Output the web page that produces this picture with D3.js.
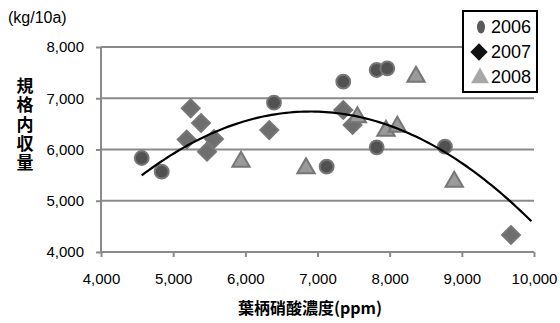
<!DOCTYPE html>
<html>
<head>
<meta charset="utf-8">
<script src="https://cdn.jsdelivr.net/npm/d3@7"></script>
<style>
	body { margin: 0; background: #fff; }
	svg { display: block; }
	text { font-family: "Liberation Sans", Arial, sans-serif; fill: #000; }
	.jp { font-family: "Noto Sans CJK JP", sans-serif; font-weight: 700; }
	.vertical { writing-mode: vertical-rl; text-orientation: upright; }
</style>
</head>
<body>
<svg width="560" height="323"></svg>
<script>

// nitrate (ppm) / yield (kg/10a)
var nitrate2006 = [ 4564, 4841, 6397, 7357, 7820, 7967, 7820, 7127, 8766 ];
var yield2006   = [ 5834, 5567, 6913, 7324, 7551, 7584, 6043, 5665, 6055 ];

var nitrate2007 = [ 5243, 5386, 5187, 5566, 5469, 6332, 7357, 7486, 9681 ];
var yield2007   = [ 6804, 6517, 6195, 6205, 5957, 6380, 6771, 6478, 4332 ];

var nitrate2008 = [ 5940, 6841, 7552, 7949, 8106, 8365, 8895 ];
var yield2008   = [ 5762, 5633, 6628, 6367, 6445, 7420, 5372 ];

var seriesNames = [ '2006', '2007', '2008' ];
var xTicks = [ 4000, 5000, 6000, 7000, 8000, 9000, 10000 ];
var yTicks = [ 4000, 5000, 6000, 7000, 8000 ];

var svg = d3.select( 'svg' );
var fmt = d3.format( ',' );
var axisGrey = '#8a8a8a';

var x = d3.scaleLinear().domain( [ 4000, 10000 ] ).range( [ 101, 534 ] );
var y = d3.scaleLinear().domain( [ 4000, 8000 ] ).range( [ 252, 47 ] );

function pairs( xs, ys ) {
	return xs.map( function( v, i ) { return { x: v, y: ys[ i ] }; } );
}

var series = [
	pairs( nitrate2006, yield2006 ),
	pairs( nitrate2007, yield2007 ),
	pairs( nitrate2008, yield2008 )
];

// gridlines
svg.append( 'g' )
	.selectAll( 'line' )
	.data( yTicks.slice( 1 ) )
	.enter()
	.append( 'line' )
		.attr( 'x1', x( 4000 ) )
		.attr( 'x2', x( 10000 ) )
		.attr( 'y1', function( d ) { return y( d ); } )
		.attr( 'y2', function( d ) { return y( d ); } )
		.attr( 'stroke', axisGrey )
		.attr( 'stroke-width', 2 );

var yAxis = svg.append( 'g' )
	.attr( 'transform', 'translate(' + x( 4000 ) + ',0)' )
	.call( d3.axisLeft( y ).tickValues( yTicks ).tickFormat( fmt ).tickSize( 5 ).tickPadding( 12 ) );

var xAxis = svg.append( 'g' )
	.attr( 'transform', 'translate(0,' + y( 4000 ) + ')' )
	.call( d3.axisBottom( x ).tickValues( xTicks ).tickFormat( fmt ).tickSize( 5 ).tickPadding( 16 ) );

[ yAxis, xAxis ].forEach( function( g ) {
	g.select( '.domain' ).attr( 'stroke', axisGrey ).attr( 'stroke-width', 2 );
	g.selectAll( '.tick line' ).attr( 'stroke', axisGrey ).attr( 'stroke-width', 2 );
	g.selectAll( '.tick text' )
		.attr( 'font-family', '"Liberation Sans", Arial, sans-serif' )
		.attr( 'font-size', 15 )
		.attr( 'fill', '#000' );
} );
yAxis.select( '.domain' ).attr( 'd', 'M0,' + y( 8000 ) + 'V' + y( 4000 ) );
xAxis.select( '.domain' ).attr( 'd', 'M' + x( 4000 ) + ',0H' + x( 10000 ) );

// markers
var symCircle = d3.symbol().type( d3.symbolCircle ).size( 150 );
var symDiamond = d3.symbol().type( d3.symbolSquare ).size( 160 );
var symTriangle = d3.symbol().type( d3.symbolTriangle ).size( 130 );

var styles = [
	{ sym: symCircle, fill: '#515151', rot: 0 },
	{ sym: symDiamond, fill: '#6e6e6e', rot: 45 },
	{ sym: symTriangle, fill: '#9a9a9a', rot: 0 }
];

series.forEach( function( pts, i ) {
	svg.append( 'g' )
		.selectAll( 'path' )
		.data( pts )
		.enter()
		.append( 'path' )
			.attr( 'd', styles[ i ].sym() )
			.attr( 'transform', function( d ) {
				return 'translate(' + x( d.x ) + ',' + y( d.y ) + ') rotate(' + styles[ i ].rot + ')';
			} )
			.attr( 'fill', styles[ i ].fill )
			.attr( 'stroke', '#767676' )
			.attr( 'stroke-width', 2 );
} );

// polynomial (order 2) trendline, least squares over all points
var all = d3.merge( series );
function fitQuadratic( pts ) {
	var s = [ 0, 0, 0, 0, 0 ], t = [ 0, 0, 0 ];
	var mx = d3.mean( pts, function( p ) { return p.x; } );
	pts.forEach( function( p ) {
		var u = ( p.x - mx ) / 1000;
		for ( var k = 0; k < 5; k++ ) s[ k ] += Math.pow( u, k );
		for ( var k = 0; k < 3; k++ ) t[ k ] += p.y * Math.pow( u, k );
	} );
	var m = [ [ s[0], s[1], s[2], t[0] ], [ s[1], s[2], s[3], t[1] ], [ s[2], s[3], s[4], t[2] ] ];
	for ( var i = 0; i < 3; i++ ) {
		for ( var j = i + 1; j < 3; j++ ) {
			var f = m[ j ][ i ] / m[ i ][ i ];
			for ( var k = i; k < 4; k++ ) m[ j ][ k ] -= f * m[ i ][ k ];
		}
	}
	var c = [ 0, 0, 0 ];
	for ( var i = 2; i >= 0; i-- ) {
		var v = m[ i ][ 3 ];
		for ( var k = i + 1; k < 3; k++ ) v -= m[ i ][ k ] * c[ k ];
		c[ i ] = v / m[ i ][ i ];
	}
	return function( xv ) {
		var u = ( xv - mx ) / 1000;
		return c[ 0 ] + c[ 1 ] * u + c[ 2 ] * u * u;
	};
}
var trend = fitQuadratic( all );
var xMin = d3.min( all, function( p ) { return p.x; } );
var trendPts = d3.range( xMin, 10001, 50 ).map( function( v ) { return { x: v, y: trend( v ) }; } );

svg.append( 'path' )
	.datum( trendPts )
	.attr( 'fill', 'none' )
	.attr( 'stroke', '#000' )
	.attr( 'stroke-width', 2.2 )
	.attr( 'd', d3.line()
		.x( function( d ) { return x( d.x ); } )
		.y( function( d ) { return y( d.y ); } ) );

// legend
var legend = svg.append( 'g' );
legend.append( 'rect' )
	.attr( 'x', 463 ).attr( 'y', 11 )
	.attr( 'width', 74 ).attr( 'height', 81 )
	.attr( 'fill', '#fff' )
	.attr( 'stroke', '#000' )
	.attr( 'stroke-width', 2 );

var legendMarks = [
	d3.symbol().type( d3.symbolCircle ).size( 90 ),
	d3.symbol().type( d3.symbolSquare ).size( 150 ),
	d3.symbol().type( d3.symbolTriangle ).size( 140 )
];
var legendFills = [ '#5a5a5a', '#111', '#a8a8a8' ];

seriesNames.forEach( function( name, i ) {
	var cy = 27 + i * 25;
	legend.append( 'path' )
		.attr( 'd', legendMarks[ i ]() )
		.attr( 'transform', i === 0 ? 'translate(481,' + cy + ') scale(0.75,1.2)'
			: i === 1 ? 'translate(479,' + cy + ') rotate(45)'
			: 'translate(480,' + ( cy + 1 ) + ')' )
		.attr( 'fill', legendFills[ i ] );
	legend.append( 'text' )
		.attr( 'x', 491 )
		.attr( 'y', cy )
		.attr( 'dy', '0.36em' )
		.attr( 'font-size', 18 )
		.text( name );
} );

// titles
svg.append( 'text' )
	.attr( 'x', 8 ).attr( 'y', 17 )
	.attr( 'dy', '0.35em' )
	.attr( 'font-size', 16 )
	.text( '(kg/10a)' );

// stacked vertical y title, one text element
svg.append( 'text' )
	.attr( 'class', 'jp vertical' )
	.attr( 'x', 25 )
	.attr( 'y', 77 )
	.attr( 'font-size', 17 )
	.attr( 'letter-spacing', 2.3 )
	.text( '規格内収量' );

svg.append( 'text' )
	.attr( 'class', 'jp' )
	.attr( 'x', 310 ).attr( 'y', 308 )
	.attr( 'dy', '0.35em' )
	.attr( 'text-anchor', 'middle' )
	.attr( 'font-size', 16 )
	.text( '葉柄硝酸濃度(ppm)' );

</script>
</body>
</html>
